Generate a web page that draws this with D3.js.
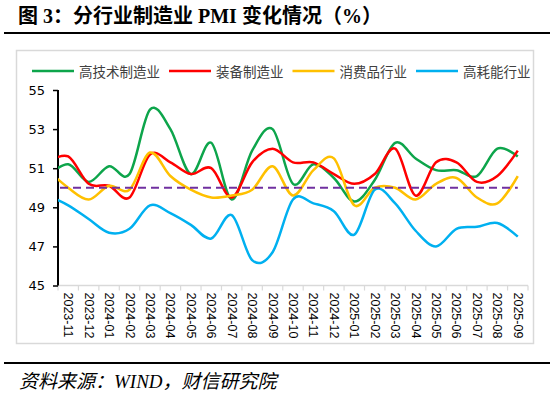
<!DOCTYPE html>
<html>
<head>
<meta charset="utf-8">
<script src="https://cdn.jsdelivr.net/npm/d3@7"></script>
<style>
  body { margin: 0; background: #fff; }
</style>
</head>
<body>
<div id="chart"></div>
<script>
// 2023-10 is the hidden lead-in point; the axis starts at 2023-11 and the lines are clipped
const months = ["2023-10", "2023-11", "2023-12", "2024-01", "2024-02", "2024-03", "2024-04",
    "2024-05", "2024-06", "2024-07", "2024-08", "2024-09", "2024-10", "2024-11", "2024-12",
    "2025-01", "2025-02", "2025-03", "2025-04", "2025-05", "2025-06", "2025-07", "2025-08", "2025-09"];

const hiTech = [50.6, 51.2, 50.3, 51.1, 50.7, 54.0, 53.0, 50.7, 52.3, 49.4, 51.9, 53.0,
    50.2, 51.2, 50.5, 49.3, 50.4, 52.3, 51.5, 50.9, 50.9, 50.6, 52.0, 51.6];
const equipment = [51.3, 51.6, 50.2, 50.1, 49.5, 51.7, 51.3, 50.7, 51.0, 49.5, 51.3, 52.0,
    51.3, 51.3, 50.7, 50.2, 50.7, 52.0, 49.6, 51.3, 51.3, 50.3, 50.6, 51.9];
const consumer = [50.9, 50.0, 49.4, 50.1, 49.9, 51.8, 50.6, 49.9, 49.5, 49.6, 49.9, 51.1,
    49.6, 50.9, 51.5, 49.1, 50.0, 50.0, 49.4, 50.2, 50.5, 49.5, 49.2, 50.6];
const energy = [49.6, 49.1, 48.4, 47.7, 47.9, 49.1, 48.7, 48.1, 47.4, 48.6, 46.3, 46.7,
    49.4, 49.2, 48.8, 47.6, 49.9, 49.2, 47.8, 47.0, 47.9, 48.0, 48.2, 47.5];

const seriesNames = ["高技术制造业", "装备制造业", "消费品行业", "高耗能行业"];
const seriesColors = ["#0DA54B", "#FF0000", "#FFC000", "#00B0F0"];
const seriesValues = [hiTech, equipment, consumer, energy];

const yTicks = [45, 47, 49, 51, 53, 55];
const baseline = 50;

const width = 550, height = 397;
const plot = { left: 58, right: 528, top: 90, bottom: 285.5 };

const svg = d3.select("#chart").append("svg")
    .attr("width", width)
    .attr("height", height)
    .style("font-family", "'Noto Sans CJK SC', sans-serif");

// title + rules
svg.append("text")
    .attr("x", 18)
    .attr("y", 23)
    .attr("font-size", 20)
    .attr("font-weight", "bold")
    .attr("font-family", "'Liberation Serif', 'Noto Sans CJK SC', serif")
    .attr("fill", "#000")
    .text("图 3：分行业制造业 PMI 变化情况（%）");

svg.append("line")
    .attr("x1", 4).attr("x2", 550)
    .attr("y1", 33).attr("y2", 33)
    .attr("stroke", "#000").attr("stroke-width", 2);

svg.append("line")
    .attr("x1", 4).attr("x2", 550)
    .attr("y1", 363).attr("y2", 363)
    .attr("stroke", "#000").attr("stroke-width", 2);

svg.append("text")
    .attr("x", 19)
    .attr("y", 388)
    .attr("font-size", 19)
    .attr("font-style", "italic")
    .attr("font-family", "'Liberation Serif', 'Noto Sans CJK SC', serif")
    .attr("fill", "#000")
    .text("资料来源：WIND，财信研究院");

// chart frame
svg.append("rect")
    .attr("x", 16.5).attr("y", 50.5)
    .attr("width", 517).attr("height", 293)
    .attr("fill", "none")
    .attr("stroke", "#D9D9D9")
    .attr("stroke-width", 1.5);

// scales
const axisMonths = months.slice(1);
const xBand = d3.scaleBand()
    .domain(axisMonths)
    .range([plot.left, plot.right]);

const firstC = xBand(axisMonths[0]) + xBand.bandwidth() / 2;
const lastC = xBand(axisMonths[axisMonths.length - 1]) + xBand.bandwidth() / 2;
const xPos = d3.scaleLinear()
    .domain([1, months.length - 1])
    .range([firstC, lastC]);

const y = d3.scaleLinear()
    .domain([45, 55])
    .range([plot.bottom, plot.top]);

// x axis: grey line with ticks between categories
const xAxisG = svg.append("g")
    .attr("transform", `translate(0,${plot.bottom})`);

xAxisG.append("line")
    .attr("x1", plot.left).attr("x2", plot.right)
    .attr("stroke", "#D9D9D9").attr("stroke-width", 1.5);

xAxisG.selectAll(".tk")
    .data(axisMonths.concat(["end"]))
    .join("line")
    .attr("class", "tk")
    .attr("x1", (d, i) => plot.left + i * xBand.step())
    .attr("x2", (d, i) => plot.left + i * xBand.step())
    .attr("y1", 0).attr("y2", 5)
    .attr("stroke", "#D9D9D9").attr("stroke-width", 1.2);

xAxisG.selectAll(".lbl")
    .data(axisMonths)
    .join("text")
    .attr("class", "lbl")
    .attr("transform", d => `translate(${xBand(d) + xBand.bandwidth() / 2},7) rotate(90)`)
    .attr("dominant-baseline", "central")
    .attr("font-size", 12.5)
    .attr("font-family", "'Liberation Sans', sans-serif")
    .attr("fill", "#000")
    .text(d => d);

// y axis
const yAxis = d3.axisLeft(y)
    .tickValues(yTicks)
    .tickSize(5)
    .tickPadding(8)
    .tickFormat(d3.format("d"));

const yAxisG = svg.append("g")
    .attr("transform", `translate(${plot.left},0)`)
    .call(yAxis);

yAxisG.select(".domain")
    .attr("stroke", "#000")
    .attr("stroke-width", 2)
    .attr("d", `M0,${plot.top}V${plot.bottom}`);

yAxisG.selectAll(".tick line")
    .attr("stroke", "#000")
    .attr("stroke-width", 1.5);

yAxisG.selectAll(".tick text")
    .attr("font-size", 13)
    .attr("font-family", "'DejaVu Sans', sans-serif")
    .attr("fill", "#000");

// clip to plot area
svg.append("clipPath")
    .attr("id", "plotClip")
    .append("rect")
    .attr("x", plot.left)
    .attr("y", plot.top - 10)
    .attr("width", plot.right - plot.left)
    .attr("height", plot.bottom - plot.top + 20);

const lineGen = d3.line()
    .x((d, i) => xPos(i))
    .y(d => y(d))
    .curve(d3.curveCardinal.tension(0));

const linesG = svg.append("g")
    .attr("clip-path", "url(#plotClip)");

linesG.selectAll("path.series")
    .data(seriesValues)
    .join("path")
    .attr("class", "series")
    .attr("d", d => lineGen(d))
    .attr("fill", "none")
    .attr("stroke", (d, i) => seriesColors[i])
    .attr("stroke-width", 2.5)
    .attr("stroke-linejoin", "round");

// 50 line
svg.append("line")
    .attr("x1", plot.left + 2).attr("x2", lastC)
    .attr("y1", y(baseline)).attr("y2", y(baseline))
    .attr("stroke", "#7030A0")
    .attr("stroke-width", 2)
    .attr("stroke-dasharray", "8,5");

// legend
const legend = svg.append("g")
    .attr("transform", "translate(32,71)");

let lx = 0;
seriesNames.forEach((name, i) => {
    const item = legend.append("g").attr("transform", `translate(${lx},0)`);
    item.append("line")
        .attr("x1", 0).attr("x2", 42)
        .attr("stroke", seriesColors[i])
        .attr("stroke-width", 2.5);
    const t = item.append("text")
        .attr("x", 47)
        .attr("dominant-baseline", "central")
        .attr("font-size", 13.5)
        .attr("fill", "#404040")
        .text(name);
    lx += 47 + t.node().getComputedTextLength() + 9;
});
</script>
</body>
</html>
